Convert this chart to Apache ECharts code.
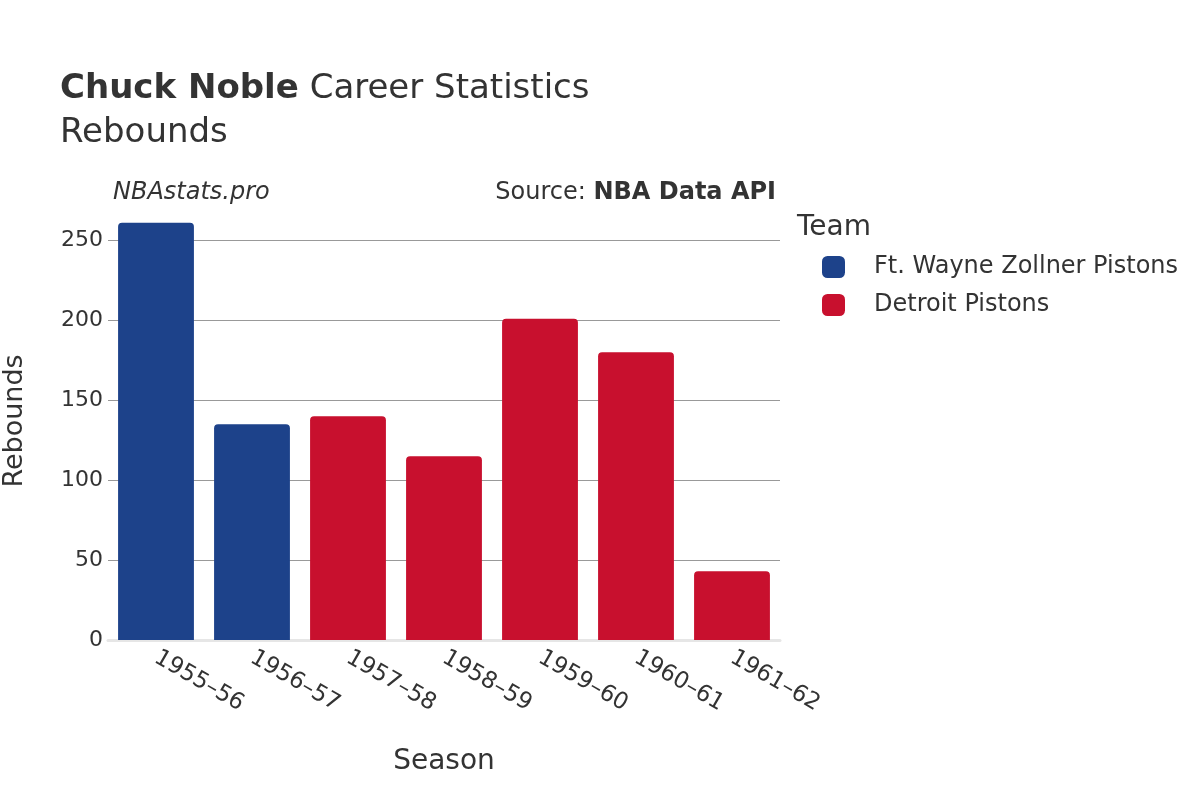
<!DOCTYPE html>
<html><head><meta charset="utf-8">
<script src="https://cdn.jsdelivr.net/npm/echarts@6/dist/echarts.min.js"></script>
<style>html,body{margin:0;padding:0;background:#fff}#c{width:1200px;height:800px}</style>
</head><body><div id="c"></div>
<script>
const seasons = ['1955–56','1956–57','1957–58','1958–59','1959–60','1960–61','1961–62'];
const teams = ['Ft. Wayne Zollner Pistons','Detroit Pistons'];
const fortWayne = [261, 135, null, null, null, null, null];
const detroit = [null, null, 140, 115, 201, 180, 43];
const teamColors = ['#1d428a','#c8102e'];
const yTicks = [0, 50, 100, 150, 200, 250];

const F = 'DejaVu Sans';
const chart = echarts.init(document.getElementById('c'));
chart.setOption({
  animation:false,
  backgroundColor:'#fff',
  textStyle:{fontFamily:F},
  title:{
    left:55, top:62,
    text:'{b|Chuck Noble} Career Statistics\nRebounds',
    textStyle:{fontFamily:F,fontSize:34,color:'#333',fontWeight:'normal',lineHeight:44,
      rich:{b:{fontFamily:F,fontSize:34,fontWeight:'bold',color:'#333',lineHeight:44}}}
  },
  graphic:[
    {type:'text',left:113,top:181,style:{text:'NBAstats.pro',fontFamily:F,fontSize:24,fontStyle:'italic',fill:'#333'}},
    {type:'text',right:424,top:181,style:{text:'{a|Source: }{b|NBA Data API}',fontFamily:F,fontSize:24,fill:'#333',
      rich:{a:{fontFamily:F,fontSize:24,color:'#333'},b:{fontFamily:F,fontSize:24,fontWeight:'bold',color:'#333'}}}},
    {type:'text',left:797,top:214,style:{text:'Team',fontFamily:F,fontSize:28,fill:'#333'}}
  ],
  legend:{
    orient:'vertical', left:817, top:250,
    itemWidth:23, itemHeight:22, itemGap:14,
    icon:'roundRect',
    data:teams,
    textStyle:{fontFamily:F,fontSize:24,color:'#333',padding:[0,0,0,24]}
  },
  grid:{left:108,right:420,top:202,bottom:160,containLabel:false,outerBoundsMode:'none'},
  xAxis:{
    type:'category', data:seasons,
    name:'Season', nameLocation:'middle', nameGap:108,
    nameTextStyle:{fontFamily:F,fontSize:28,color:'#333'},
    axisLine:{show:true,lineStyle:{color:'#e6e6e6',width:3}},
    axisTick:{show:false},
    axisLabel:{rotate:-30,fontFamily:F,fontSize:23,color:'#333',margin:16}
  },
  yAxis:{
    type:'value', min:0, max:274, interval:50,
    name:'Rebounds', nameLocation:'middle', nameGap:80,
    nameTextStyle:{fontFamily:F,fontSize:27,color:'#333'},
    axisLine:{show:false}, axisTick:{show:false},
    axisLabel:{fontFamily:F,fontSize:22,color:'#333',margin:5,showMaxLabel:false,
      formatter:v=>yTicks.includes(v)?String(v):''},
    splitLine:{show:true,showMinLine:false,showMaxLine:false,lineStyle:{color:'#999',width:1}}
  },
  series:[
    {name:teams[0],type:'bar',stack:'t',data:fortWayne,barCategoryGap:'21%',
      itemStyle:{color:teamColors[0],borderRadius:[4,4,0,0]}},
    {name:teams[1],type:'bar',stack:'t',data:detroit,barCategoryGap:'21%',
      itemStyle:{color:teamColors[1],borderRadius:[4,4,0,0]}}
  ]
});
</script></body></html>
